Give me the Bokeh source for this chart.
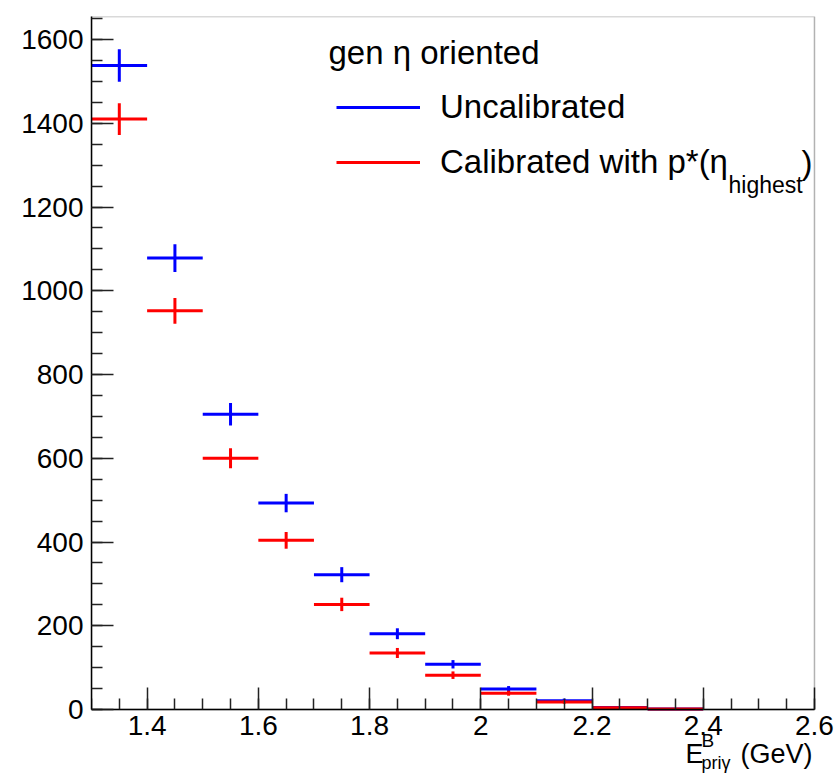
from bokeh.plotting import figure
from bokeh.models import (ColumnDataSource, Range1d, FixedTicker, Label, Legend,
                          LegendItem, BoxAnnotation)
from bokeh.embed import file_html
from bokeh.resources import INLINE

# ---- data ----
bin_lo = [1.3, 1.4, 1.5, 1.6, 1.7, 1.8, 1.9, 2.0, 2.1, 2.2, 2.3]
bin_hi = [1.4, 1.5, 1.6, 1.7, 1.8, 1.9, 2.0, 2.1, 2.2, 2.3, 2.4]
bin_center = [1.35, 1.45, 1.55, 1.65, 1.75, 1.85, 1.95, 2.05, 2.15, 2.25, 2.35]
uncalibrated = [1538, 1078, 705, 493, 322, 181, 108, 49, 21, 5, 1]
uncalibrated_err = [39, 33, 27, 22, 18, 13, 10, 7, 5, 2, 1]
calibrated = [1410, 952, 600, 404, 251, 135, 82, 39, 18, 4, 1]
calibrated_err = [38, 31, 24, 20, 16, 12, 9, 6, 4, 2, 1]

x_min, x_max = 1.3, 2.6
x_ticks = [1.4, 1.6, 1.8, 2, 2.2, 2.4, 2.6]
x_tick_labels = ["1.4", "1.6", "1.8", "2", "2.2", "2.4", "2.6"]
x_minor = [1.3 + 0.05 * i for i in range(27)]
y_ticks = [0, 200, 400, 600, 800, 1000, 1200, 1400, 1600]
y_minor = [50 * i for i in range(34)]
y_max = 1655

legend_title = "gen η oriented"
label_uncal = "Uncalibrated"
label_cal = "Calibrated with p*(η"

FONT = "Liberation Sans"

# frame spans the whole lower/right area so that texts below the axis are not clipped
p = figure(width=838, height=773, output_backend="svg", toolbar_location=None,
           x_range=Range1d(x_min, 2.6432), y_range=Range1d(-152.8, y_max),
           min_border_left=91, min_border_right=0, min_border_top=16,
           min_border_bottom=0)
p.grid.visible = False
p.background_fill_color = "white"
p.border_fill_color = "white"
p.outline_line_color = None

for ax in (p.xaxis[0], p.yaxis[0]):
    ax.axis_line_color = "black"
    ax.axis_line_width = 1.5
    ax.major_tick_line_color = "#222222"
    ax.minor_tick_line_color = "#222222"
    ax.major_tick_line_width = 1.5
    ax.minor_tick_line_width = 1.5
    ax.major_tick_out = 0
    ax.minor_tick_out = 0
    ax.major_tick_in = 22
    ax.minor_tick_in = 11
    ax.major_label_text_font = FONT
    ax.major_label_text_font_size = "28px"
    ax.major_label_text_color = "black"

p.xaxis.ticker = FixedTicker(ticks=x_ticks, minor_ticks=x_minor)
p.xaxis.major_label_overrides = dict(zip(x_ticks, x_tick_labels))
p.xaxis.major_label_standoff = 6
p.xaxis.fixed_location = 0
p.xaxis.bounds = (x_min, x_max)
p.yaxis.ticker = FixedTicker(ticks=y_ticks, minor_ticks=y_minor)
p.yaxis.major_label_standoff = 8
p.yaxis.bounds = (0, y_max)

# frame: top and right edges
p.add_layout(BoxAnnotation(bottom=0, right=x_max, fill_alpha=0,
                           line_color="black", line_width=1.5))


def add_series(vals, errs, color):
    src = ColumnDataSource(dict(
        lo=bin_lo, hi=bin_hi, xc=bin_center, y=vals,
        ylo=[v - e for v, e in zip(vals, errs)],
        yhi=[v + e for v, e in zip(vals, errs)]))
    h = p.segment(x0="lo", y0="y", x1="hi", y1="y", source=src,
                  line_color=color, line_width=3)
    p.segment(x0="xc", y0="ylo", x1="xc", y1="yhi", source=src,
              line_color=color, line_width=3)
    return h

r_unc = add_series(uncalibrated, uncalibrated_err, "#0000ff")
r_cal = add_series(calibrated, calibrated_err, "#ff0000")

legend = Legend(items=[LegendItem(label=label_uncal, renderers=[r_unc]),
                       LegendItem(label=label_cal, renderers=[r_cal])],
                location=(245, 591), padding=0, margin=0, spacing=15,
                glyph_width=84, glyph_height=40, label_height=40,
                label_standoff=20, label_text_font=FONT,
                label_text_font_size="33px", label_text_color="black",
                border_line_alpha=0, background_fill_alpha=0)
p.add_layout(legend)


def lab(text, x, y, size):
    p.add_layout(Label(text=text, x=x, y=y, x_units="screen", y_units="screen",
                       text_font=FONT, text_font_size=size, text_color="black",
                       text_align="left", text_baseline="middle"))

lab(legend_title, 237, 721, "33px")
lab("highest", 637, 589, "23px")
lab(")", 710, 611, "33px")

# x-axis title  E^B_{priγ} (GeV)
lab("E", 594, 20, "27px")
lab("B", 610, 33, "19px")
lab("priγ", 610, 11, "18px")
lab("(GeV)", 649, 20, "27px")

open("out.html", "w").write(file_html(p, INLINE))
